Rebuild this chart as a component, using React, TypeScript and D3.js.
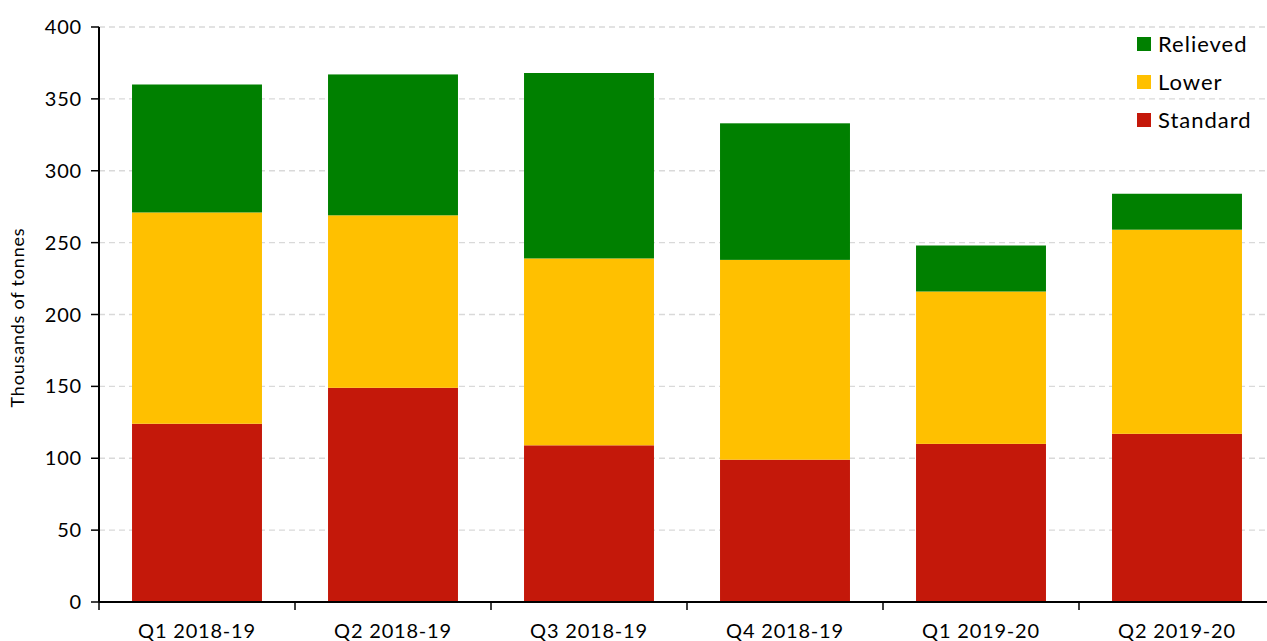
import React from "react";
import * as d3 from "d3";

const categories = ["Q1 2018-19", "Q2 2018-19", "Q3 2018-19", "Q4 2018-19", "Q1 2019-20", "Q2 2019-20"];
const standard = [124, 149, 109, 99, 110, 117];
const lower = [147, 120, 130, 139, 106, 142];
const relieved = [89, 98, 129, 95, 32, 25];
const yTicks = [0, 50, 100, 150, 200, 250, 300, 350, 400];
const seriesNames = ["Standard", "Lower", "Relieved"];
const colors: Record<string, string> = { Standard: "#c4180a", Lower: "#ffc000", Relieved: "#008000" };

const W = 1267, H = 641;
const left = 99, right = 1275, top = 27, bottom = 602;
const font = "'Lato', 'DejaVu Sans', sans-serif";

export default function App() {
  const x = d3.scaleBand<string>().domain(categories).range([left, right]).paddingInner(0.337).paddingOuter(0.1685);
  const y = d3.scaleLinear().domain([0, 400]).range([bottom, top]);
  const rows = categories.map((c, i) => ({ cat: c, Standard: standard[i], Lower: lower[i], Relieved: relieved[i] }));
  const stacked = d3.stack<any>().keys(seriesNames)(rows);
  const band = (right - left) / categories.length;
  const legendItems = ["Relieved", "Lower", "Standard"];

  return (
    <svg width={W} height={H} style={{ position: "absolute", left: 0, top: 0, background: "#fff" }}>
      {yTicks.filter(t => t > 0).map(t => (
        <line key={t} x1={left} x2={W} y1={y(t)} y2={y(t)} stroke="#d9d9d9" strokeWidth={1.3} strokeDasharray="6,4" />
      ))}
      {stacked.map(s => (
        <g key={s.key} fill={colors[s.key]}>
          {s.map((d, i) => (
            <rect key={i} x={x(categories[i])} width={x.bandwidth()} y={y(d[1])} height={y(d[0]) - y(d[1])} />
          ))}
        </g>
      ))}
      <line x1={left} x2={left} y1={top} y2={bottom} stroke="#000" strokeWidth={2} />
      <line x1={left} x2={W} y1={bottom} y2={bottom} stroke="#000" strokeWidth={2} />
      {yTicks.map(t => (
        <g key={t}>
          <line x1={left - 8} x2={left} y1={y(t)} y2={y(t)} stroke="#000" strokeWidth={1.5} />
          <text x={left - 17} y={y(t)} dy="0.35em" textAnchor="end" fontFamily={font} fontSize={20} letterSpacing={0.8} fill="#000">{t}</text>
        </g>
      ))}
      {d3.range(categories.length + 1).map(i => (
        <line key={i} x1={left + i * band} x2={left + i * band} y1={bottom} y2={bottom + 8} stroke="#000" strokeWidth={1.5} />
      ))}
      {categories.map(c => (
        <text key={c} x={(x(c) as number) + x.bandwidth() / 2} y={638} textAnchor="middle" fontFamily={font} fontSize={20} letterSpacing={0.8} fill="#000">{c}</text>
      ))}
      <text transform={`translate(24,${(top + bottom) / 2 + 3}) rotate(-90)`} textAnchor="middle" fontFamily={font} fontSize={18} letterSpacing={0.8} fill="#000">Thousands of tonnes</text>
      {legendItems.map((k, i) => (
        <g key={k} transform={`translate(1137,${44 + i * 38})`}>
          <rect x={0} y={-7} width={14} height={14} fill={colors[k]} />
          <text x={21} y={0} dy="0.35em" fontFamily={font} fontSize={22} letterSpacing={1} fill="#000">{k}</text>
        </g>
      ))}
    </svg>
  );
}
